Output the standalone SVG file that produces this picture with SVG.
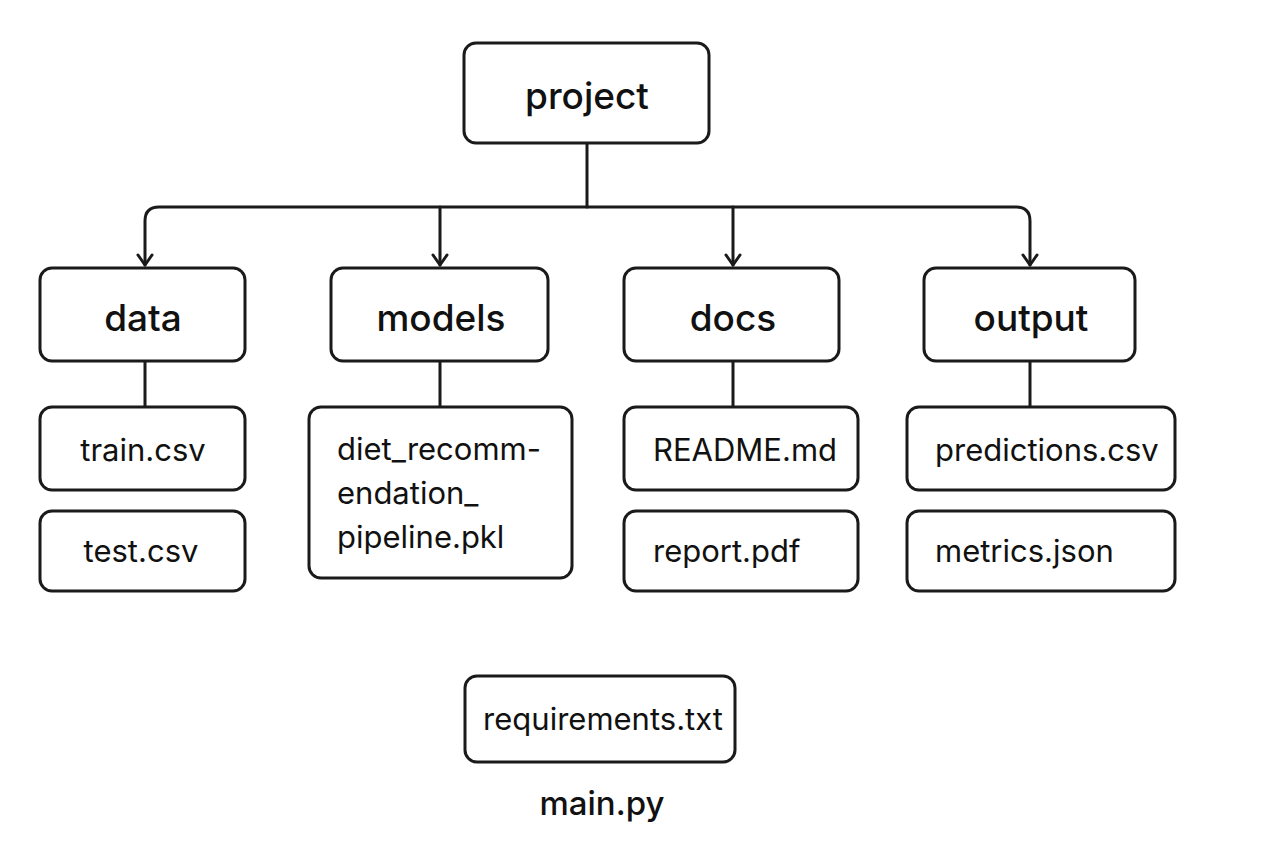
<svg xmlns="http://www.w3.org/2000/svg" width="1280" height="853" viewBox="0 0 1280 853">
<defs>
<style>
.box{fill:#fff;stroke:#1a1a1a;stroke-width:3}
.ln{fill:none;stroke:#1a1a1a;stroke-width:3;stroke-linecap:round;stroke-linejoin:round}
.t1{font-family:Inter,"Liberation Sans",sans-serif;font-size:37px;font-weight:500;fill:#111;text-anchor:middle}
.t2{font-family:Inter,"Liberation Sans",sans-serif;font-size:31px;font-weight:400;fill:#111}
.tc{text-anchor:middle}
</style>
<marker id="arr" viewBox="0 0 20 20" refX="18" refY="10" markerWidth="20" markerHeight="20" markerUnits="userSpaceOnUse" orient="auto-start-reverse">
<path d="M8 3 L18 10 L8 17" fill="none" stroke="#1a1a1a" stroke-width="3" stroke-linecap="round" stroke-linejoin="round"/>
</marker>
</defs>
<rect width="1280" height="853" fill="#fff"/>
<g id="connectors">
<path class="ln" d="M587 143 V207"/>
<path class="ln" d="M145 265 V221 Q145 207 159 207 H1016 Q1030 207 1030 221 V265" marker-start="url(#arr)" marker-end="url(#arr)"/>
<path class="ln" d="M440 207 V265" marker-end="url(#arr)"/>
<path class="ln" d="M733 207 V265" marker-end="url(#arr)"/>
<path class="ln" d="M145 361 V407"/>
<path class="ln" d="M440 361 V407"/>
<path class="ln" d="M733 361 V407"/>
<path class="ln" d="M1030 361 V407"/>
</g>
<g id="project"><rect class="box" x="464" y="43" width="245" height="100" rx="12"/><text class="t1" x="587" y="109">project</text></g>
<g id="data"><rect class="box" x="40" y="268" width="205" height="93" rx="12"/><text class="t1" x="143" y="331">data</text></g>
<g id="models"><rect class="box" x="331" y="268" width="217" height="93" rx="12"/><text class="t1" x="441" y="331">models</text></g>
<g id="docs"><rect class="box" x="624" y="268" width="215" height="93" rx="12"/><text class="t1" x="733" y="331">docs</text></g>
<g id="output"><rect class="box" x="924" y="268" width="211" height="93" rx="12"/><text class="t1" x="1031" y="331">output</text></g>
<g id="train"><rect class="box" x="40" y="407" width="205" height="83" rx="12"/><text class="t2 tc" x="143" y="461">train.csv</text></g>
<g id="test"><rect class="box" x="40" y="511" width="205" height="80" rx="12"/><text class="t2 tc" x="141" y="562">test.csv</text></g>
<g id="pipeline"><rect class="box" x="309" y="407" width="263" height="171" rx="12"/><text class="t2" x="337" y="460">diet_recomm-</text><text class="t2" x="337" y="504">endation_</text><text class="t2" x="337" y="548">pipeline.pkl</text></g>
<g id="readme"><rect class="box" x="624" y="407" width="234" height="83" rx="12"/><text class="t2" x="653" y="461">README.md</text></g>
<g id="report"><rect class="box" x="624" y="511" width="234" height="80" rx="12"/><text class="t2" x="653" y="562">report.pdf</text></g>
<g id="predictions"><rect class="box" x="907" y="407" width="268" height="83" rx="12"/><text class="t2" x="935" y="461">predictions.csv</text></g>
<g id="metrics"><rect class="box" x="907" y="511" width="268" height="80" rx="12"/><text class="t2" x="935" y="562">metrics.json</text></g>
<g id="requirements"><rect class="box" x="465" y="676" width="270" height="86" rx="12"/><text class="t2 tc" x="603" y="730">requirements.txt</text></g>
<g id="main"><text class="t2 tc" x="602" y="815" style="font-size:33px;font-weight:500">main.py</text></g>
</svg>
